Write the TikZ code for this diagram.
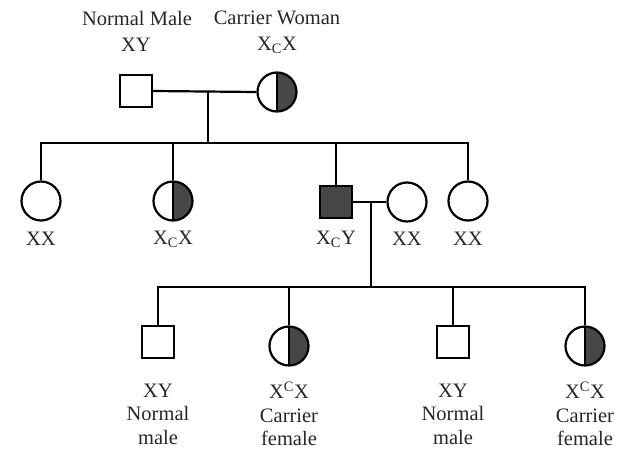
\documentclass[tikz,border=0pt]{standalone}
\usepackage{fontspec}
\setmainfont{Liberation Serif}
\begin{document}
\begin{tikzpicture}[x=1pt,y=-1pt,
  line width=2.2pt,
  every node/.style={text=black!85},
  male/.style={draw, rectangle, minimum size=32pt, inner sep=0pt, fill=white},
  affmale/.style={male, fill=black!72},
  female/.style={draw, circle, minimum size=39pt, inner sep=0pt, fill=white},
  carrier/.style={female, path picture={
     \fill[black!72] (path picture bounding box.north) rectangle (path picture bounding box.south east);
     \draw[line width=2.2pt] (path picture bounding box.north) -- (path picture bounding box.south);}},
  lbl/.style={font=\fontsize{20.5}{23.5}\selectfont, inner sep=0pt, align=center}
]
\useasboundingbox (0,0) rectangle (625,450);
% generation 1
\node[male] (p1) at (136,91) {};
\node[carrier] (p2) at (277,92) {};
\node[lbl] (t1) at (137,18) {Normal Male};
\node[lbl] (t2) at (277,18) {Carrier Woman};
\node[lbl] (t3) at (136,45) {XY};
\node[lbl] (t4) at (277,45) {X\textsubscript{C}X};
\coordinate (c1) at (208,91);
\coordinate (s1) at (208,143);
\draw (p1.east) -- (p2.west);
\draw (c1) -- (s1);
% generation 2
\node[female] (g2a) at (41,201) {};
\node[carrier] (g2b) at (173,201) {};
\node[affmale] (g2c) at (336,202) {};
\node[female] (g2d) at (407,202) {};
\node[female] (g2e) at (468,201) {};
\draw (g2a.north) |- (s1) -| (g2e.north);
\draw (g2b.north) -- (g2b.north |- s1);
\draw (g2c.north) -- (g2c.north |- s1);
\node[lbl] (l2a) at (41,239) {XX};
\node[lbl] (l2b) at (173,239) {X\textsubscript{C}X};
\node[lbl] (l2c) at (336,239) {X\textsubscript{C}Y};
\node[lbl] (l2d) at (407,239) {XX};
\node[lbl] (l2e) at (468,239) {XX};
\coordinate (c2) at (371,202);
\coordinate (s2) at (371,287);
\draw (g2c.east) -- (g2d.west);
\draw (c2) -- (s2);
% generation 3
\node[male] (g3a) at (158,342) {};
\node[carrier] (g3b) at (289,346) {};
\node[male] (g3c) at (453,342) {};
\node[carrier] (g3d) at (585,346) {};
\draw (g3a.north) |- (s2) -| (g3d.north);
\draw (g3b.north) -- (g3b.north |- s2);
\draw (g3c.north) -- (g3c.north |- s2);
\node[lbl] (l3a) at (158,414) {XY\\Normal\\male};
\node[lbl] (l3b) at (289,414) {X\textsuperscript{C}X\\Carrier\\female};
\node[lbl] (l3c) at (453,414) {XY\\Normal\\male};
\node[lbl] (l3d) at (585,414) {X\textsuperscript{C}X\\Carrier\\female};
\end{tikzpicture}
\end{document}
